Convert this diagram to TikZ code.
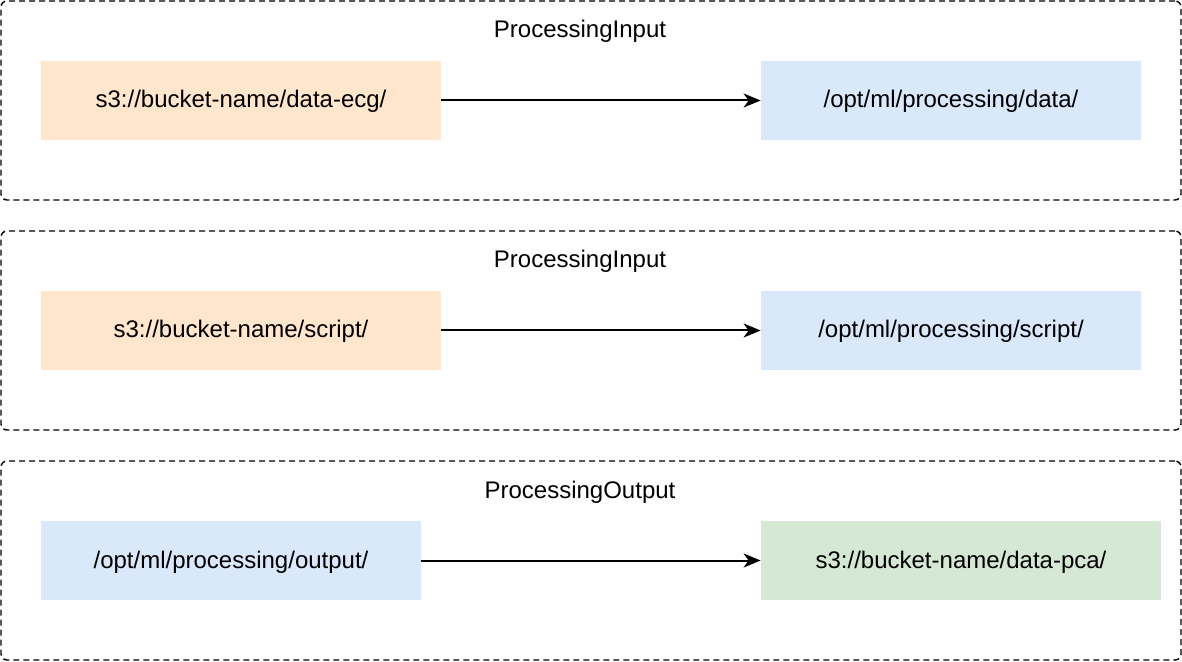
\documentclass[tikz,border=0pt]{standalone}
\usepackage{fontspec}
\setmainfont{Liberation Sans}
\usetikzlibrary{arrows.meta,positioning}
\definecolor{s3orange}{HTML}{FFE6CC}
\definecolor{optblue}{HTML}{DAE8FC}
\definecolor{s3green}{HTML}{D5E8D4}
\tikzset{
  groupbox/.style={draw, dash pattern=on 3pt off 2pt, line width=0.7pt, rounded corners=3pt,
    minimum width=590pt, minimum height=99.5pt, inner sep=0pt},
  grouptitle/.style={text height=9pt, text depth=1.5pt, inner sep=0pt},
  pathbox/.style={inner sep=0pt, minimum height=39.5pt, text height=9pt, text depth=1.5pt},
  flow/.style={-{Stealth[length=8.5pt,width=7pt,inset=2.5pt]}, line width=1pt}
}

\begin{document}
\begin{tikzpicture}[x=0.5pt, y=-0.5pt, font=\fontsize{12}{14}\selectfont]
\useasboundingbox (0,0) rectangle (1182,662);

% groups
\node[groupbox] (grp1) at (591,100.5) {};
\node[groupbox] (grp2) at (591,330.5) {};
\node[groupbox] (grp3) at (591,560.5) {};
\node[grouptitle] (title1) at (580,30) {ProcessingInput};
\node[grouptitle] (title2) at (580,260) {ProcessingInput};
\node[grouptitle] (title3) at (580,491) {ProcessingOutput};

% data channel
\node[pathbox, fill=s3orange, minimum width=200pt] (srcdata) at (241,100.5) {s3://bucket-name/data-ecg/};
\node[pathbox, fill=optblue, minimum width=190pt] (dstdata) at (951,100.5) {/opt/ml/processing/data/};
\draw[flow] (srcdata) -- (dstdata);

% script channel
\node[pathbox, fill=s3orange, minimum width=200pt] (srcscript) at (241,330.5) {s3://bucket-name/script/};
\node[pathbox, fill=optblue, minimum width=190pt] (dstscript) at (951,330.5) {/opt/ml/processing/script/};
\draw[flow] (srcscript) -- (dstscript);

% output channel
\node[pathbox, fill=optblue, minimum width=190pt] (srcout) at (231,560.5) {/opt/ml/processing/output/};
\node[pathbox, fill=s3green, minimum width=200pt] (dstout) at (961,560.5) {s3://bucket-name/data-pca/};
\draw[flow] (srcout) -- (dstout);
\end{tikzpicture}
\end{document}
